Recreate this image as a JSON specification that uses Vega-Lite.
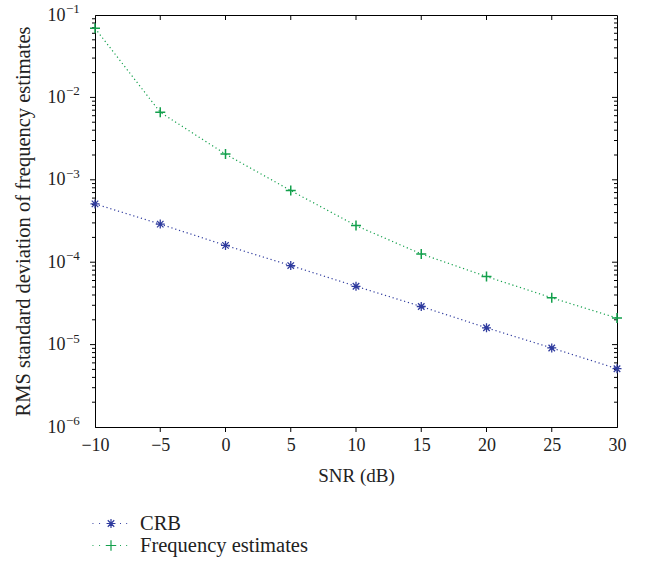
{
  "$schema": "https://vega.github.io/schema/vega-lite/v6.json",
  "width": 522,
  "height": 412,
  "autosize": {"type": "none"},
  "padding": {"left": 95, "top": 15, "right": 34, "bottom": 134},
  "background": "white",
  "config": {
    "view": {"stroke": "black", "strokeWidth": 1},
    "font": "Liberation Serif",
    "axis": {
      "grid": false,
      "ticks": true,
      "domainColor": "black",
      "tickColor": "black",
      "tickWidth": 1,
      "labelColor": "#222222",
      "titleColor": "#222222",
      "labelFont": "Liberation Serif",
      "titleFont": "Liberation Serif",
      "labelFontSize": 18,
      "titleFontSize": 19,
      "titleFontWeight": "normal"
    },
    "legend": {
      "labelFont": "Liberation Serif",
      "labelFontSize": 20.5,
      "labelColor": "#222222",
      "labelLimit": 0
    }
  },
  "datasets": {
    "rms": [
      {"snr": -10, "series": "CRB", "rms": 0.00051},
      {"snr": -5, "series": "CRB", "rms": 0.00029},
      {"snr": 0, "series": "CRB", "rms": 0.00016},
      {"snr": 5, "series": "CRB", "rms": 0.000091},
      {"snr": 10, "series": "CRB", "rms": 0.000051},
      {"snr": 15, "series": "CRB", "rms": 0.000029},
      {"snr": 20, "series": "CRB", "rms": 0.000016},
      {"snr": 25, "series": "CRB", "rms": 0.0000091},
      {"snr": 30, "series": "CRB", "rms": 0.0000051},
      {"snr": -10, "series": "Frequency estimates", "rms": 0.069},
      {"snr": -5, "series": "Frequency estimates", "rms": 0.0066},
      {"snr": 0, "series": "Frequency estimates", "rms": 0.00205},
      {"snr": 5, "series": "Frequency estimates", "rms": 0.00074},
      {"snr": 10, "series": "Frequency estimates", "rms": 0.000278},
      {"snr": 15, "series": "Frequency estimates", "rms": 0.000126},
      {"snr": 20, "series": "Frequency estimates", "rms": 0.000067},
      {"snr": 25, "series": "Frequency estimates", "rms": 0.000037},
      {"snr": 30, "series": "Frequency estimates", "rms": 0.000021}
    ],
    "exponents": [
      {"snr": -10, "rms": 0.1, "exponent": "−1"},
      {"snr": -10, "rms": 0.01, "exponent": "−2"},
      {"snr": -10, "rms": 0.001, "exponent": "−3"},
      {"snr": -10, "rms": 0.0001, "exponent": "−4"},
      {"snr": -10, "rms": 0.00001, "exponent": "−5"},
      {"snr": -10, "rms": 0.000001, "exponent": "−6"}
    ],
    "xticks": [
      {"edge": "bottom", "snr": -5, "rms": 0.000001}, {"edge": "bottom", "snr": 0, "rms": 0.000001},
      {"edge": "bottom", "snr": 5, "rms": 0.000001}, {"edge": "bottom", "snr": 10, "rms": 0.000001},
      {"edge": "bottom", "snr": 15, "rms": 0.000001}, {"edge": "bottom", "snr": 20, "rms": 0.000001},
      {"edge": "bottom", "snr": 25, "rms": 0.000001},
      {"edge": "top", "snr": -5, "rms": 0.1}, {"edge": "top", "snr": 0, "rms": 0.1},
      {"edge": "top", "snr": 5, "rms": 0.1}, {"edge": "top", "snr": 10, "rms": 0.1},
      {"edge": "top", "snr": 15, "rms": 0.1}, {"edge": "top", "snr": 20, "rms": 0.1},
      {"edge": "top", "snr": 25, "rms": 0.1}
    ],
    "yticks": [
      {"edge": "left", "kind": "major", "snr": -10, "rms": 0.00001},
      {"edge": "left", "kind": "major", "snr": -10, "rms": 0.0001},
      {"edge": "left", "kind": "major", "snr": -10, "rms": 0.001},
      {"edge": "left", "kind": "major", "snr": -10, "rms": 0.01},
      {"edge": "right", "kind": "major", "snr": 30, "rms": 0.00001},
      {"edge": "right", "kind": "major", "snr": 30, "rms": 0.0001},
      {"edge": "right", "kind": "major", "snr": 30, "rms": 0.001},
      {"edge": "right", "kind": "major", "snr": 30, "rms": 0.01},
      {"edge": "left", "kind": "minor", "snr": -10, "rms": 0.000002}, {"edge": "left", "kind": "minor", "snr": -10, "rms": 0.000003},
      {"edge": "left", "kind": "minor", "snr": -10, "rms": 0.000004}, {"edge": "left", "kind": "minor", "snr": -10, "rms": 0.000005},
      {"edge": "left", "kind": "minor", "snr": -10, "rms": 0.000006}, {"edge": "left", "kind": "minor", "snr": -10, "rms": 0.000007},
      {"edge": "left", "kind": "minor", "snr": -10, "rms": 0.000008}, {"edge": "left", "kind": "minor", "snr": -10, "rms": 0.000009},
      {"edge": "left", "kind": "minor", "snr": -10, "rms": 0.00002}, {"edge": "left", "kind": "minor", "snr": -10, "rms": 0.00003},
      {"edge": "left", "kind": "minor", "snr": -10, "rms": 0.00004}, {"edge": "left", "kind": "minor", "snr": -10, "rms": 0.00005},
      {"edge": "left", "kind": "minor", "snr": -10, "rms": 0.00006}, {"edge": "left", "kind": "minor", "snr": -10, "rms": 0.00007},
      {"edge": "left", "kind": "minor", "snr": -10, "rms": 0.00008}, {"edge": "left", "kind": "minor", "snr": -10, "rms": 0.00009},
      {"edge": "left", "kind": "minor", "snr": -10, "rms": 0.0002}, {"edge": "left", "kind": "minor", "snr": -10, "rms": 0.0003},
      {"edge": "left", "kind": "minor", "snr": -10, "rms": 0.0004}, {"edge": "left", "kind": "minor", "snr": -10, "rms": 0.0005},
      {"edge": "left", "kind": "minor", "snr": -10, "rms": 0.0006}, {"edge": "left", "kind": "minor", "snr": -10, "rms": 0.0007},
      {"edge": "left", "kind": "minor", "snr": -10, "rms": 0.0008}, {"edge": "left", "kind": "minor", "snr": -10, "rms": 0.0009},
      {"edge": "left", "kind": "minor", "snr": -10, "rms": 0.002}, {"edge": "left", "kind": "minor", "snr": -10, "rms": 0.003},
      {"edge": "left", "kind": "minor", "snr": -10, "rms": 0.004}, {"edge": "left", "kind": "minor", "snr": -10, "rms": 0.005},
      {"edge": "left", "kind": "minor", "snr": -10, "rms": 0.006}, {"edge": "left", "kind": "minor", "snr": -10, "rms": 0.007},
      {"edge": "left", "kind": "minor", "snr": -10, "rms": 0.008}, {"edge": "left", "kind": "minor", "snr": -10, "rms": 0.009},
      {"edge": "left", "kind": "minor", "snr": -10, "rms": 0.02}, {"edge": "left", "kind": "minor", "snr": -10, "rms": 0.03},
      {"edge": "left", "kind": "minor", "snr": -10, "rms": 0.04}, {"edge": "left", "kind": "minor", "snr": -10, "rms": 0.05},
      {"edge": "left", "kind": "minor", "snr": -10, "rms": 0.06}, {"edge": "left", "kind": "minor", "snr": -10, "rms": 0.07},
      {"edge": "left", "kind": "minor", "snr": -10, "rms": 0.08}, {"edge": "left", "kind": "minor", "snr": -10, "rms": 0.09},
      {"edge": "right", "kind": "minor", "snr": 30, "rms": 0.000002}, {"edge": "right", "kind": "minor", "snr": 30, "rms": 0.000003},
      {"edge": "right", "kind": "minor", "snr": 30, "rms": 0.000004}, {"edge": "right", "kind": "minor", "snr": 30, "rms": 0.000005},
      {"edge": "right", "kind": "minor", "snr": 30, "rms": 0.000006}, {"edge": "right", "kind": "minor", "snr": 30, "rms": 0.000007},
      {"edge": "right", "kind": "minor", "snr": 30, "rms": 0.000008}, {"edge": "right", "kind": "minor", "snr": 30, "rms": 0.000009},
      {"edge": "right", "kind": "minor", "snr": 30, "rms": 0.00002}, {"edge": "right", "kind": "minor", "snr": 30, "rms": 0.00003},
      {"edge": "right", "kind": "minor", "snr": 30, "rms": 0.00004}, {"edge": "right", "kind": "minor", "snr": 30, "rms": 0.00005},
      {"edge": "right", "kind": "minor", "snr": 30, "rms": 0.00006}, {"edge": "right", "kind": "minor", "snr": 30, "rms": 0.00007},
      {"edge": "right", "kind": "minor", "snr": 30, "rms": 0.00008}, {"edge": "right", "kind": "minor", "snr": 30, "rms": 0.00009},
      {"edge": "right", "kind": "minor", "snr": 30, "rms": 0.0002}, {"edge": "right", "kind": "minor", "snr": 30, "rms": 0.0003},
      {"edge": "right", "kind": "minor", "snr": 30, "rms": 0.0004}, {"edge": "right", "kind": "minor", "snr": 30, "rms": 0.0005},
      {"edge": "right", "kind": "minor", "snr": 30, "rms": 0.0006}, {"edge": "right", "kind": "minor", "snr": 30, "rms": 0.0007},
      {"edge": "right", "kind": "minor", "snr": 30, "rms": 0.0008}, {"edge": "right", "kind": "minor", "snr": 30, "rms": 0.0009},
      {"edge": "right", "kind": "minor", "snr": 30, "rms": 0.002}, {"edge": "right", "kind": "minor", "snr": 30, "rms": 0.003},
      {"edge": "right", "kind": "minor", "snr": 30, "rms": 0.004}, {"edge": "right", "kind": "minor", "snr": 30, "rms": 0.005},
      {"edge": "right", "kind": "minor", "snr": 30, "rms": 0.006}, {"edge": "right", "kind": "minor", "snr": 30, "rms": 0.007},
      {"edge": "right", "kind": "minor", "snr": 30, "rms": 0.008}, {"edge": "right", "kind": "minor", "snr": 30, "rms": 0.009},
      {"edge": "right", "kind": "minor", "snr": 30, "rms": 0.02}, {"edge": "right", "kind": "minor", "snr": 30, "rms": 0.03},
      {"edge": "right", "kind": "minor", "snr": 30, "rms": 0.04}, {"edge": "right", "kind": "minor", "snr": 30, "rms": 0.05},
      {"edge": "right", "kind": "minor", "snr": 30, "rms": 0.06}, {"edge": "right", "kind": "minor", "snr": 30, "rms": 0.07},
      {"edge": "right", "kind": "minor", "snr": 30, "rms": 0.08}, {"edge": "right", "kind": "minor", "snr": 30, "rms": 0.09}
    ]
  },
  "data": {"name": "rms"},
  "encoding": {
    "x": {
      "field": "snr",
      "type": "quantitative",
      "scale": {"domain": [-10, 30], "nice": false, "zero": false},
      "axis": {
        "orient": "bottom",
        "title": "SNR (dB)",
        "tickCount": 8,
        "ticks": false,
        "labelPadding": 9,
        "titlePadding": 12,
        "labelFlush": false
      }
    },
    "y": {
      "field": "rms",
      "type": "quantitative",
      "scale": {"type": "log", "domain": [0.000001, 0.1], "nice": false},
      "axis": {
        "orient": "left",
        "title": "RMS standard deviation of frequency estimates",
        "titleFontSize": 20.5,
        "labelExpr": "abs(log(datum.value) / LN10 - round(log(datum.value) / LN10)) < 0.000001 ? '10' : ''",
        "labelOverlap": false,
        "labelFlush": false,
        "ticks": false,
        "labelPadding": 30,
        "titlePadding": 14
      }
    }
  },
  "layer": [
    {
      "data": {"name": "xticks"},
      "mark": {"type": "tick", "orient": "vertical", "size": 5, "thickness": 1, "color": "black", "opacity": 1},
      "encoding": {
        "yOffset": {"condition": {"test": "datum.edge === 'bottom'", "value": -2.5}, "value": 2.5}
      }
    },
    {
      "data": {"name": "yticks"},
      "transform": [{"filter": "datum.kind === 'major'"}],
      "mark": {"type": "tick", "orient": "horizontal", "size": 5, "thickness": 1, "color": "black", "opacity": 1},
      "encoding": {
        "xOffset": {"condition": {"test": "datum.edge === 'left'", "value": 2.5}, "value": -2.5}
      }
    },
    {
      "data": {"name": "yticks"},
      "transform": [{"filter": "datum.kind === 'minor'"}],
      "mark": {"type": "tick", "orient": "horizontal", "size": 3, "thickness": 1, "color": "black", "opacity": 1},
      "encoding": {
        "xOffset": {"condition": {"test": "datum.edge === 'left'", "value": 1.5}, "value": -1.5}
      }
    },
    {
      "transform": [{"filter": "datum.series === 'CRB'"}],
      "mark": {"type": "line", "color": "#2f3b9e", "strokeWidth": 1.2, "strokeDash": [1.2, 2.8]},
      "encoding": {}
    },
    {
      "transform": [{"filter": "datum.series === 'Frequency estimates'"}],
      "mark": {"type": "line", "color": "#13a04c", "strokeWidth": 1.2, "strokeDash": [1.2, 2.8]},
      "encoding": {}
    },
    {
      "transform": [{"filter": "datum.series === 'CRB'"}],
      "mark": {
        "type": "point",
        "shape": "M-1,0H1M0,-1V1M-0.72,-0.72L0.72,0.72M-0.72,0.72L0.72,-0.72",
        "size": 81,
        "filled": false,
        "color": "#2f3b9e",
        "strokeWidth": 1.3,
        "opacity": 1
      },
      "encoding": {}
    },
    {
      "transform": [{"filter": "datum.series === 'Frequency estimates'"}],
      "mark": {
        "type": "point",
        "shape": "M-1,0H1M0,-1V1",
        "size": 100,
        "filled": false,
        "color": "#13a04c",
        "strokeWidth": 1.5,
        "opacity": 1
      },
      "encoding": {}
    },
    {
      "data": {"name": "exponents"},
      "mark": {"type": "text", "align": "left", "baseline": "alphabetic", "dx": -29, "dy": -2, "fontSize": 13, "color": "#222222"},
      "encoding": {
        "text": {"field": "exponent", "type": "nominal"}
      }
    },
    {
      "mark": {"type": "point", "filled": false, "opacity": 0, "size": 361, "strokeWidth": 1.2},
      "encoding": {
        "color": {
          "field": "series",
          "type": "nominal",
          "scale": {"domain": ["CRB", "Frequency estimates"], "range": ["#2f3b9e", "#13a04c"]},
          "legend": {
            "title": null,
            "orient": "none",
            "legendX": 5.5,
            "legendY": 498,
            "padding": 0,
            "rowPadding": 1,
            "labelOffset": 18.5,
            "symbolStrokeWidth": 1.2,
            "symbolSize": 361
          }
        },
        "shape": {
          "field": "series",
          "type": "nominal",
          "scale": {
            "domain": ["CRB", "Frequency estimates"],
            "range": [
              "M-0.47,0H0.47M0,-0.47V0.47M-0.34,-0.34L0.34,0.34M-0.34,0.34L0.34,-0.34M-1.95,0h0.1M-1.25,0h0.1M0.95,0h0.1M1.6,0h0.1",
              "M-0.55,0H0.55M0,-0.55V0.55M-1.95,0h0.1M-1.25,0h0.1M0.95,0h0.1M1.6,0h0.1"
            ]
          },
          "legend": {
            "title": null,
            "orient": "none",
            "legendX": 5.5,
            "legendY": 498,
            "padding": 0,
            "rowPadding": 1,
            "labelOffset": 18.5,
            "symbolStrokeWidth": 1.2,
            "symbolSize": 361
          }
        }
      }
    }
  ]
}
